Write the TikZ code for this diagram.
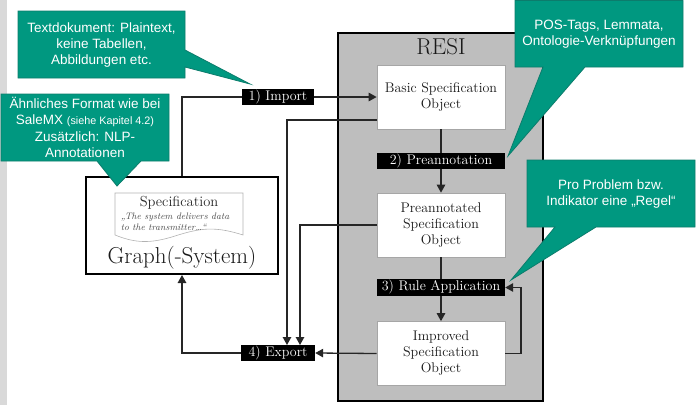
\documentclass[tikz,border=0pt]{standalone}
\usepackage{fontspec}
\usetikzlibrary{arrows.meta}
\newfontfamily\notefont{Liberation Sans}
\definecolor{notegreen}{HTML}{009880}
\definecolor{noteedge}{HTML}{0C7C6C}
\definecolor{resigray}{HTML}{BEBEBE}
\definecolor{stripgray}{HTML}{D9D9D9}
\tikzset{
	objectbox/.style={draw=gray!70,fill=white,line width=0.7pt,minimum width=128pt,minimum height=64pt,align=center,inner sep=0pt,font=\fontsize{14}{16}\selectfont,text=black!90},
	stepbox/.style={fill=black,text=white,minimum height=16.5pt,inner sep=0pt,font=\fontsize{14}{14}\selectfont},
	notebody/.style={draw=noteedge,fill=notegreen,line width=0.8pt,line join=miter},
	notetext/.style={text=white,align=center,inner sep=0pt,font=\notefont\fontsize{13.5}{16.4}\selectfont},
	flow/.style={line width=1.3pt,draw=black!85},
	flowarrow/.style={flow,-{Triangle[length=8pt,width=8.5pt]}}
}
\begin{document}
\begin{tikzpicture}[x=1pt,y=-1pt]
	\useasboundingbox (0,0) rectangle (697,405);
	\fill[stripgray] (0,0) rectangle (7,405);

	\node[draw=black,fill=resigray,line width=1.5pt,minimum width=205pt,minimum height=368pt,inner sep=0pt] (resi) at (440.5,217) {};
	\node[font=\fontsize{23}{26}\selectfont,text=black!90] (resititle) at (441,46.5) {RESI};

	\node[objectbox] (basic) at (441,97) {Basic Specification\\Object};
	\node[objectbox] (preannotated) at (441,225) {Preannotated\\Specification\\Object};
	\node[objectbox] (improved) at (441,353.5) {Improved\\Specification\\Object};

	\node[stepbox,minimum width=128pt] (preannotation) at (441,161) {2) Preannotation};
	\node[stepbox,minimum width=128pt] (rules) at (441,287.5) {3) Rule Application};
	\node[stepbox,minimum width=72pt] (import) at (278,97) {1) Import};
	\node[stepbox,minimum width=74pt] (export) at (278,353) {4) Export};

	\node[draw=black,line width=2pt,minimum width=192pt,minimum height=97pt,inner sep=0pt] (graph) at (182,225.5) {};
	\draw[gray!60,line width=0.6pt] (115,193) -- (243,193) -- (243,235) .. controls (215,226) and (200,228) .. (175,236) .. controls (150,244) and (135,243) .. (115,235) -- cycle;
	\node[font=\fontsize{14.5}{16}\selectfont,text=black!85] (spectitle) at (179,203) {Specification};
	\node[font=\fontsize{9.4}{11}\itshape\selectfont,text=black!70,align=left,inner sep=0pt] (specquote) at (175,222) {„The system delivers data\\to the transmitter…“};
	\node[font=\fontsize{23}{26}\selectfont,text=black!90] (graphlabel) at (182,258) {Graph(-System)};

	\coordinate (basicout) at (377,120);
	\coordinate (preout) at (377,225);
	\coordinate (exportin1) at (287,345);
	\coordinate (exportin2) at (300,345);
	\coordinate (loopturn) at (521,287.5);

	\draw[flow] (graph.north) |- (import.west);
	\draw[flowarrow] (import.east) -- (basic.west);
	\draw[flowarrow] (basicout) -| (exportin1);
	\draw[flowarrow] (preout) -| (exportin2);
	\draw[flowarrow] (improved.west) -- (export.east);
	\draw[flowarrow] (export.west) -| (graph.south);
	\draw[flow] (basic.south) -- (preannotation.north);
	\draw[flowarrow] (preannotation.south) -- (preannotated.north);
	\draw[flow] (preannotated.south) -- (rules.north);
	\draw[flowarrow] (rules.south) -- (improved.north);
	\draw[flowarrow] (improved.east) -| (loopturn) -- (rules.east);

	\draw[notebody] (18,11) -- (185,11) -- (185,50) -- (250,84) -- (185,67) -- (185,78) -- (18,78) -- cycle;
	\node[notetext] (noteimport) at (101.5,45) {Textdokument: Plaintext,\\keine Tabellen,\\Abbildungen etc.};

	\draw[notebody] (1,94) -- (169,94) -- (169,161) -- (141,161) -- (117,186) -- (97,161) -- (1,161) -- cycle;
	\node[notetext] (noteformat) at (85,127.5) {Ähnliches Format wie bei\\SaleMX {\fontsize{10.8}{12}\selectfont (siehe Kapitel 4.2)}\\Zusätzlich: NLP-\\Annotationen};

	\draw[notebody] (515,0.5) -- (683,0.5) -- (683,67) -- (585,67) -- (508,156) -- (543,67) -- (515,67) -- cycle;
	\node[notetext] (notepos) at (599,34) {POS-Tags, Lemmata,\\Ontologie-Verknüpfungen};

	\draw[notebody] (527,160) -- (695,160) -- (695,227) -- (596,227) -- (511,280) -- (555,227) -- (527,227) -- cycle;
	\node[notetext] (noterule) at (611,194) {Pro Problem bzw.\\Indikator eine „Regel“};
\end{tikzpicture}
\end{document}
